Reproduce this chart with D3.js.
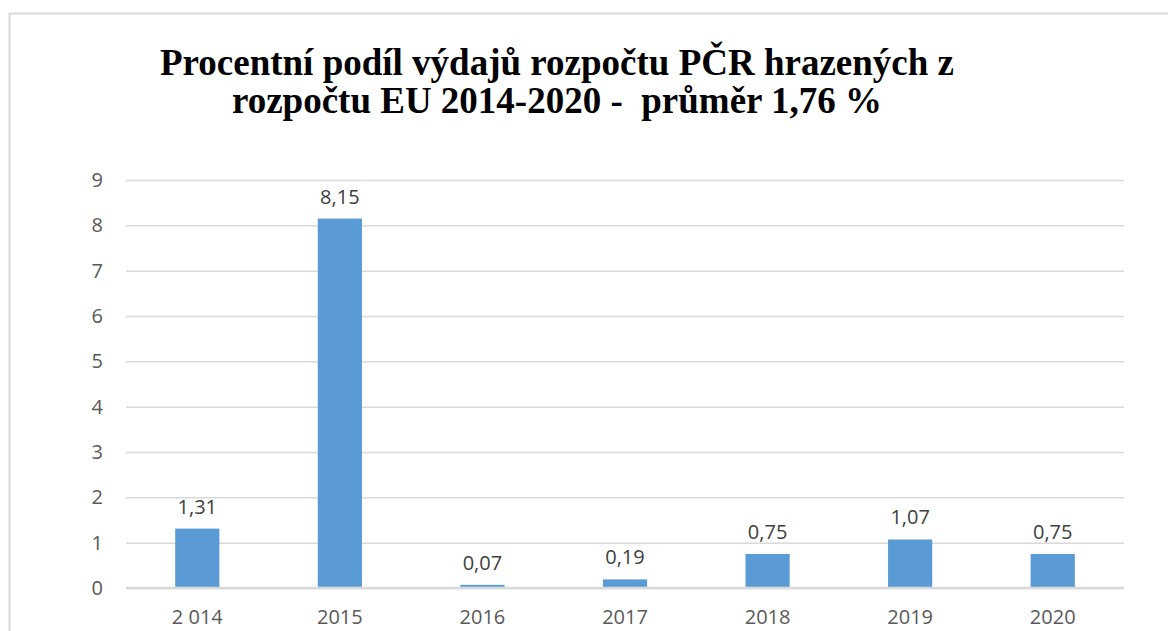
<!DOCTYPE html>
<html>
<head>
<meta charset="utf-8">
<script src="https://cdn.jsdelivr.net/npm/d3@7"></script>
<style>
  html, body { margin: 0; padding: 0; background: #fff; }
  svg { display: block; }
</style>
</head>
<body>
<div id="chart"></div>
<script>
const years = ['2 014', '2015', '2016', '2017', '2018', '2019', '2020'];
const values = [1.31, 8.15, 0.07, 0.19, 0.75, 1.07, 0.75];
const yTicks = [0, 1, 2, 3, 4, 5, 6, 7, 8, 9];
const titleLines = [
  'Procentní podíl výdajů rozpočtu PČR hrazených z',
  'rozpočtu EU 2014-2020 -  průměr 1,76 %'
];

const width = 1168, height = 631;
const plotLeft = 126, plotRight = 1124, plotTop = 180, plotBottom = 588;

const svg = d3.select('#chart').append('svg')
  .attr('width', width)
  .attr('height', height);

// chart frame
svg.append('rect')
  .attr('x', 9.5).attr('y', 13.5)
  .attr('width', 1200).attr('height', 700)
  .attr('fill', 'none')
  .attr('stroke', '#d9d9d9')
  .attr('stroke-width', 2);

// title
svg.append('g').selectAll('text')
  .data(titleLines)
  .join('text')
  .attr('x', 557)
  .attr('y', (d, i) => 75 + i * 38)
  .attr('text-anchor', 'middle')
  .style('font-family', '"Liberation Serif", "Times New Roman", serif')
  .style('font-weight', 'bold')
  .style('font-size', '37px')
  .style('white-space', 'pre')
  .attr('fill', '#000')
  .text(d => d);

const x = d3.scaleBand()
  .domain(years)
  .range([plotLeft, plotRight])
  .paddingInner(0.69)
  .paddingOuter(0.345);

const y = d3.scaleLinear()
  .domain([0, 9])
  .range([plotBottom, plotTop]);

const labelFont = '"Open Sans", sans-serif';

// gridlines + y labels
const yAxis = svg.append('g')
  .attr('transform', `translate(${plotLeft},0)`)
  .call(d3.axisLeft(y).tickValues(yTicks).tickSize(-(plotRight - plotLeft)).tickPadding(23));
yAxis.select('.domain').remove();
yAxis.selectAll('.tick line')
  .attr('stroke', '#d9d9d9')
  .attr('stroke-width', 1.5);
yAxis.selectAll('.tick text')
  .style('font-family', labelFont)
  .style('font-size', '20px')
  .attr('fill', '#595959');

// bars
svg.append('g').selectAll('rect')
  .data(values)
  .join('rect')
  .attr('x', (d, i) => x(years[i]))
  .attr('y', d => y(d))
  .attr('width', x.bandwidth())
  .attr('height', d => y(0) - y(d))
  .attr('fill', '#5b9bd5');

// baseline
svg.append('line')
  .attr('x1', plotLeft).attr('x2', plotRight)
  .attr('y1', y(0)).attr('y2', y(0))
  .attr('stroke', '#d9d9d9')
  .attr('stroke-width', 2.5);

// value labels
svg.append('g').selectAll('text')
  .data(values)
  .join('text')
  .attr('x', (d, i) => x(years[i]) + x.bandwidth() / 2)
  .attr('y', d => y(d) - 15)
  .attr('text-anchor', 'middle')
  .style('font-family', labelFont)
  .style('font-size', '20px')
  .attr('fill', '#404040')
  .text(d => d.toFixed(2).replace('.', ','));

// x labels
const xAxis = svg.append('g')
  .attr('transform', `translate(0,${plotBottom})`)
  .call(d3.axisBottom(x).tickSize(0).tickPadding(22));
xAxis.select('.domain').remove();
xAxis.selectAll('.tick text')
  .style('font-family', labelFont)
  .style('font-size', '20px')
  .attr('fill', '#595959');
</script>
</body>
</html>
